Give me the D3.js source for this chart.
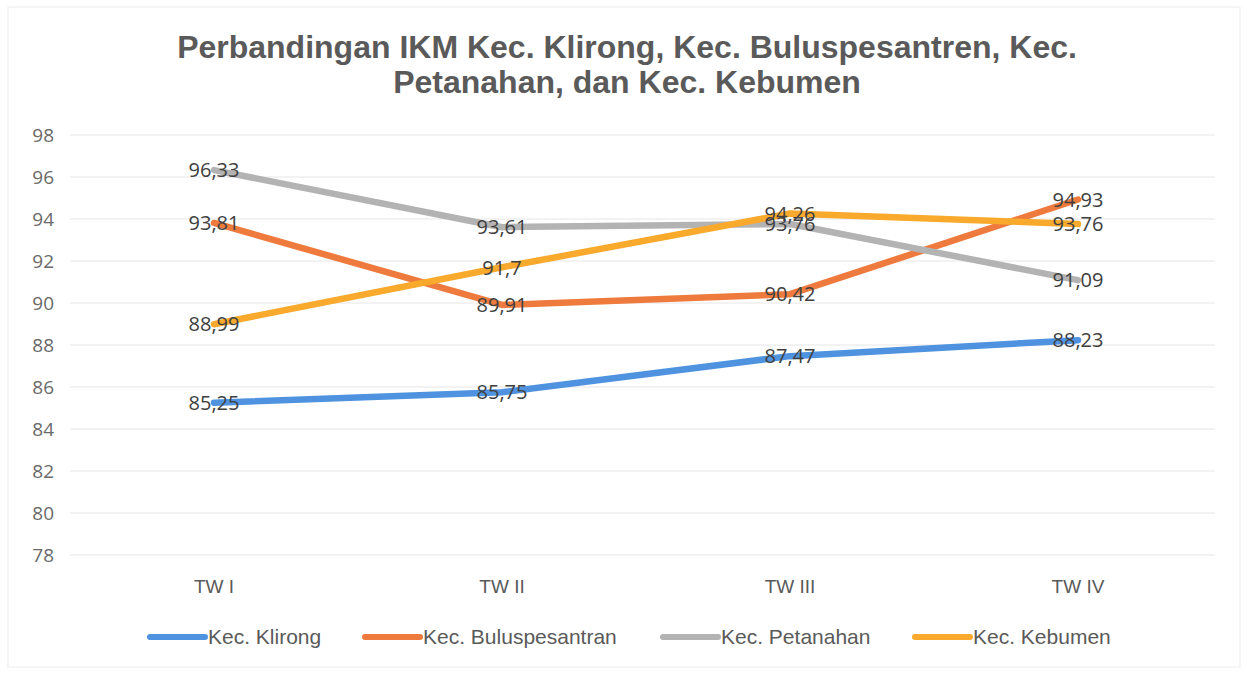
<!DOCTYPE html>
<html>
<head>
<meta charset="utf-8">
<script src="https://cdn.jsdelivr.net/npm/d3@7"></script>
<style>
  body { margin: 0; background: #fff; }
  svg { display: block; }
</style>
</head>
<body>
<div id="chart"></div>
<script>
const categories = ["TW I", "TW II", "TW III", "TW IV"];
const seriesNames = ["Kec. Klirong", "Kec. Buluspesantran", "Kec. Petanahan", "Kec. Kebumen"];
const klirong = [85.25, 85.75, 87.47, 88.23];
const buluspesantran = [93.81, 89.91, 90.42, 94.93];
const petanahan = [96.33, 93.61, 93.76, 91.09];
const kebumen = [88.99, 91.7, 94.26, 93.76];
const yTicks = [78, 80, 82, 84, 86, 88, 90, 92, 94, 96, 98];
const colors = ["#4f93e0", "#ee7b3d", "#b3b3b3", "#f9a92c"];

const seriesValues = [klirong, buluspesantran, petanahan, kebumen];
const width = 1247, height = 673;
const margin = {top: 135, right: 25, bottom: 118, left: 70};
const gridRight = 1215;

const svg = d3.select("#chart").append("svg")
    .attr("width", width)
    .attr("height", height);

// faint outer frame of the chart area
svg.append("rect")
    .attr("x", 8).attr("y", 7)
    .attr("width", 1232).attr("height", 660)
    .attr("fill", "none")
    .attr("stroke", "#ececec");

const sans = "'Liberation Sans', Arial, sans-serif";
const labelFont = "'Open Sans', 'Liberation Sans', sans-serif";

const x = d3.scaleBand()
    .domain(categories)
    .range([margin.left, width - margin.right]);

const y = d3.scaleLinear()
    .domain([78, 98])
    .range([height - margin.bottom, margin.top]);

// title
const title = svg.append("text")
    .attr("text-anchor", "middle")
    .attr("font-family", sans)
    .attr("font-weight", "bold")
    .attr("font-size", 32)
    .attr("fill", "#5a5a5a");
title.append("tspan").attr("x", 627).attr("y", 58)
    .text("Perbandingan IKM Kec. Klirong, Kec. Buluspesantren, Kec.");
title.append("tspan").attr("x", 627).attr("y", 93)
    .text("Petanahan, dan Kec. Kebumen");

// gridlines
svg.append("g")
    .selectAll("line")
    .data(yTicks)
    .join("line")
        .attr("x1", margin.left)
        .attr("x2", gridRight)
        .attr("y1", d => y(d))
        .attr("y2", d => y(d))
        .attr("stroke", "#e6e6e6")
        .attr("stroke-width", 1);

// y axis labels
const yAxis = svg.append("g")
    .attr("transform", "translate(54,0)")
    .call(d3.axisLeft(y).tickValues(yTicks).tickSize(0).tickPadding(0));
yAxis.select(".domain").remove();
yAxis.selectAll("text")
    .attr("font-family", labelFont)
    .attr("font-size", 19)
    .attr("fill", "#6a6a6a");

// x axis labels
const xAxis = svg.append("g")
    .attr("transform", `translate(0,${height - margin.bottom + 24})`)
    .call(d3.axisBottom(x).tickSize(0).tickPadding(0));
xAxis.select(".domain").remove();
xAxis.selectAll("text")
    .attr("font-family", sans)
    .attr("font-size", 19)
    .attr("fill", "#5a5a5a");

// lines
const line = d3.line()
    .x((d, i) => x(categories[i]) + x.bandwidth() / 2)
    .y(d => y(d));

svg.append("g")
    .selectAll("path")
    .data(seriesValues)
    .join("path")
        .attr("d", d => line(d))
        .attr("fill", "none")
        .attr("stroke", (d, i) => colors[i])
        .attr("stroke-width", 6.5)
        .attr("stroke-linecap", "round")
        .attr("stroke-linejoin", "round");

// data labels, centred on the points
const fmt = v => String(v).replace(".", ",");
seriesValues.forEach((vals, s) => {
    svg.append("g")
        .selectAll("text")
        .data(vals)
        .join("text")
            .attr("x", (d, i) => x(categories[i]) + x.bandwidth() / 2)
            .attr("y", d => y(d))
            .attr("dy", "0.36em")
            .attr("text-anchor", "middle")
            .attr("font-family", labelFont)
            .attr("font-size", 20)
            .attr("fill", "#404040")
            .text(d => fmt(d));
});

// legend
const legendX = [150, 365, 663, 915];
const legend = svg.append("g")
    .selectAll("g")
    .data(seriesNames)
    .join("g")
        .attr("transform", (d, i) => `translate(${legendX[i]},637)`);
legend.append("line")
    .attr("x1", 0).attr("x2", 55)
    .attr("stroke", (d, i) => colors[i])
    .attr("stroke-width", 6)
    .attr("stroke-linecap", "round");
legend.append("text")
    .attr("x", 58)
    .attr("dy", "0.35em")
    .attr("font-family", sans)
    .attr("font-size", 21)
    .attr("fill", "#5a5a5a")
    .text(d => d);
</script>
</body>
</html>
